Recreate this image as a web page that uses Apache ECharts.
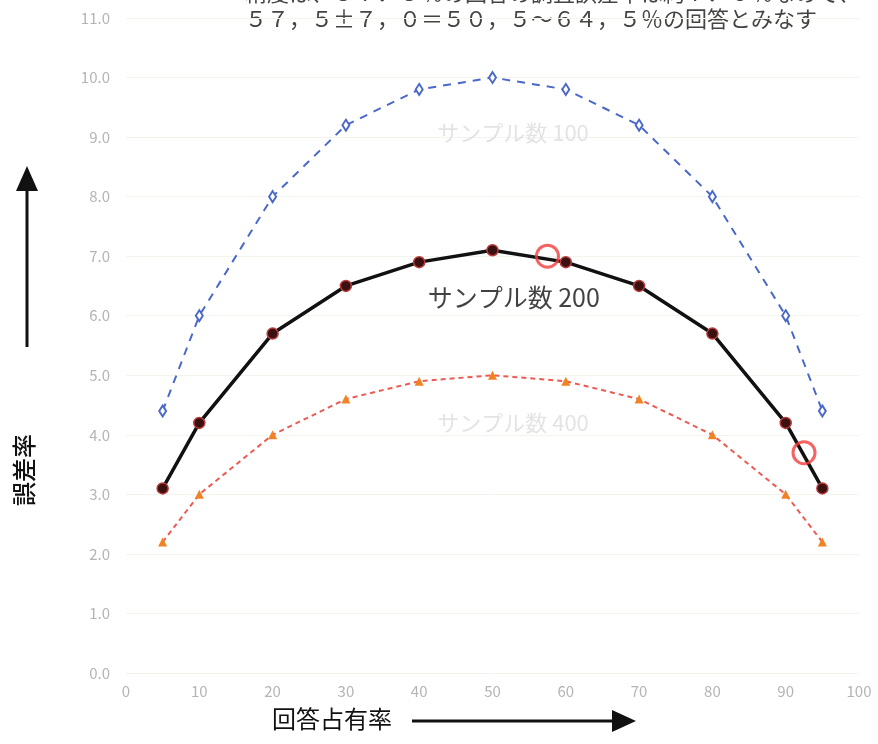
<!DOCTYPE html>
<html>
<head>
<meta charset="utf-8">
<script src="https://cdn.jsdelivr.net/npm/echarts@6/dist/echarts.min.js"></script>
<style>
html,body{margin:0;padding:0;background:#fff;}
#c{width:878px;height:744px;}
</style>
</head>
<body>
<div id="c"></div>
<script>
// ---- data ----
var shares = [5, 10, 20, 30, 40, 50, 60, 70, 80, 90, 95];
var err100 = [4.4, 6.0, 8.0, 9.2, 9.8, 10.0, 9.8, 9.2, 8.0, 6.0, 4.4];
var err200 = [3.1, 4.2, 5.7, 6.5, 6.9, 7.1, 6.9, 6.5, 5.7, 4.2, 3.1];
var err400 = [2.2, 3.0, 4.0, 4.6, 4.9, 5.0, 4.9, 4.6, 4.0, 3.0, 2.2];
var highlightX = [57.5, 92.5];
var highlightY = [7.0, 3.7];
var seriesNames = ['サンプル数 100', 'サンプル数 200', 'サンプル数 400'];
var noteLine1 = '精度は、５７．５％の回答の調査誤差率は約７．０％なので、';
var noteLine2 = '５７，５±７，０＝５０，５～６４，５％の回答とみなす';
var xTitle = '回答占有率';
var yTitle = '誤差率';

function pairs(xs, ys){ return xs.map(function(x,i){ return [x, ys[i]]; }); }

var FONT = '"Noto Sans CJK JP", "Noto Sans", sans-serif';
var chart = echarts.init(document.getElementById('c'));
var option = {
  animation: false,
  backgroundColor: '#fff',
  grid: {left: 126, right: 19, top: 18, bottom: 71},
  xAxis: {
    type: 'value', min: 0, max: 100, interval: 10,
    axisLine: {show: false}, axisTick: {show: false},
    splitLine: {show: false},
    axisLabel: {color: '#b4b4b4', fontSize: 15, margin: 11, fontFamily: FONT}
  },
  yAxis: {
    type: 'value', min: 0, max: 11, interval: 1,
    axisLine: {show: false}, axisTick: {show: false},
    splitLine: {show: true, lineStyle: {color: '#f4f4ee', width: 1}},
    axisLabel: {color: '#b4b4b4', fontSize: 15, margin: 16, fontFamily: FONT,
      formatter: function(v){ return v.toFixed(1); }}
  },
  series: [
    {
      name: seriesNames[0], type: 'line', data: pairs(shares, err100),
      symbol: 'emptyDiamond', symbolSize: [7, 11],
      lineStyle: {color: '#4a68c8', width: 2, type: [8, 7]},
      itemStyle: {color: '#4a68c8', borderWidth: 1.5}, z: 3
    },
    {
      name: seriesNames[2], type: 'line', data: pairs(shares, err400),
      symbol: 'triangle', symbolSize: 9,
      lineStyle: {color: '#ec5a52', width: 2, type: [5, 4]},
      itemStyle: {color: '#f08424'}, z: 3
    },
    {
      name: seriesNames[1], type: 'line', data: pairs(shares, err200),
      symbol: 'circle', symbolSize: 11,
      lineStyle: {color: '#111', width: 3.5},
      itemStyle: {color: '#3a1010', borderColor: '#b83a3a', borderWidth: 1.5}, z: 4
    },
    {
      type: 'scatter', data: pairs(highlightX, highlightY),
      symbol: 'circle', symbolSize: 22,
      itemStyle: {color: 'rgba(0,0,0,0)', borderColor: '#f43c3c', borderWidth: 3}, z: 6
    },
    {
      type: 'scatter', symbolSize: 0, z: 2, silent: true,
      data: [
        {value: [52.8, 9.08], label: {formatter: seriesNames[0], color: '#dcdcdc', fontSize: 22}},
        {value: [52.9, 6.30], label: {formatter: seriesNames[1], color: '#111', fontSize: 25}},
        {value: [52.8, 4.20], label: {formatter: seriesNames[2], color: '#dcdcdc', fontSize: 22}}
      ],
      label: {show: true, position: 'inside', fontFamily: FONT}
    }
  ],
  graphic: [
    {type: 'text', left: 245, top: -18, style: {text: noteLine1, fill: '#444', font: '22px ' + FONT}},
    {type: 'text', left: 245, top: 8, style: {text: noteLine2, fill: '#444', font: '22px ' + FONT}},
    // y title + arrow
    {type: 'text', x: 24, y: 470, rotation: Math.PI / 2,
      style: {text: yTitle, fill: '#111', font: '500 24px ' + FONT, align: 'center', verticalAlign: 'middle'}},
    {type: 'line', shape: {x1: 27, y1: 347, x2: 27, y2: 185}, style: {stroke: '#111', lineWidth: 3}},
    {type: 'polygon', shape: {points: [[16, 191], [38, 191], [27, 166]]}, style: {fill: '#111'}},
    // x title + arrow
    {type: 'text', left: 272, top: 707, style: {text: xTitle, fill: '#111', font: '24px ' + FONT}},
    {type: 'line', shape: {x1: 412, y1: 721, x2: 616, y2: 721}, style: {stroke: '#111', lineWidth: 3}},
    {type: 'polygon', shape: {points: [[612, 710], [612, 732], [636, 721]]}, style: {fill: '#111'}}
  ]
};
chart.setOption(option);
</script>
</body>
</html>
